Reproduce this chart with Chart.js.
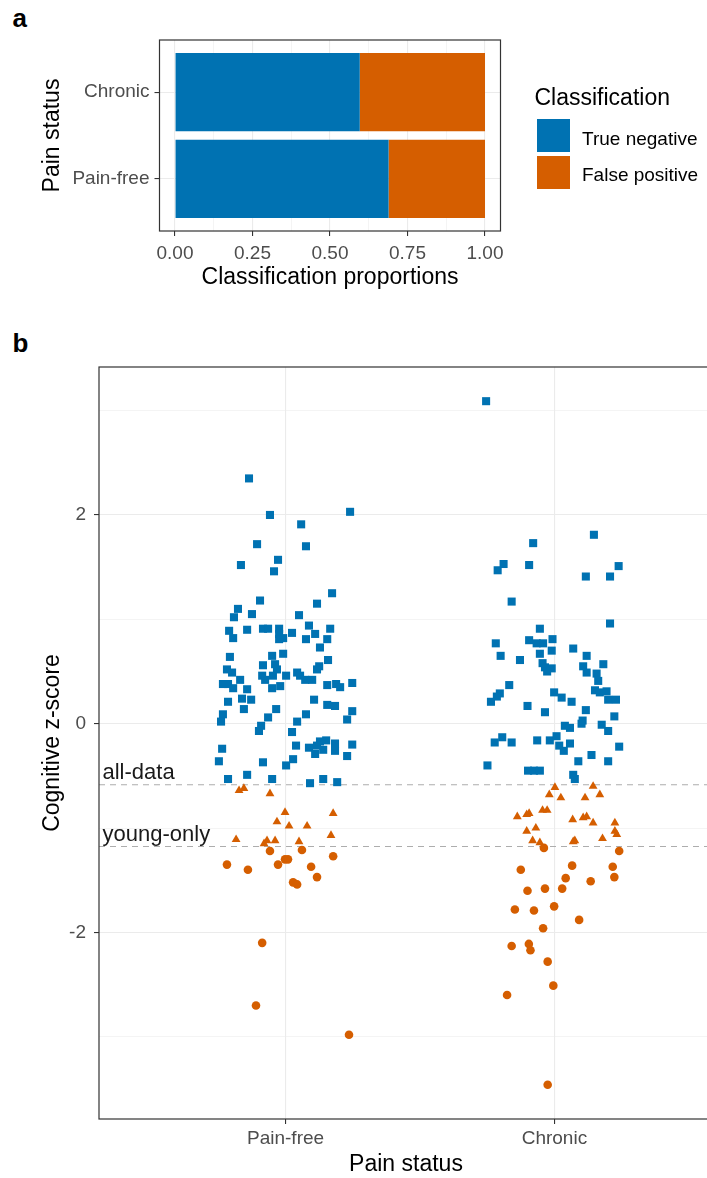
<!DOCTYPE html>
<html>
<head>
<meta charset="utf-8">
<title>Classification of cognitive z-scores by pain status</title>
<script src="https://cdn.jsdelivr.net/npm/chart.js@4.4.1/dist/chart.umd.min.js"></script>
<style>
  html, body { margin: 0; padding: 0; background: #fff; overflow: hidden; }
  #page { position: relative; width: 707px; height: 1178px; overflow: hidden;
          font-family: 'Liberation Sans', Arial, sans-serif; }
  canvas { position: absolute; left: 0; }
  #fig-a { top: 0; }
  #fig-b { top: 320px; }
  .tag { position: absolute; font-weight: bold; font-size: 26px; line-height: 1; color: #000; }
  .lg-title { position: absolute; left: 534.5px; top: 85.5px; font-size: 23px; line-height: 1; color: #000; white-space: nowrap; }
  .lg-key { position: absolute; left: 536.5px; width: 33px; height: 33px; }
  .lg-text { position: absolute; left: 582px; font-size: 19px; line-height: 1; color: #000; white-space: nowrap; }
</style>
</head>
<body>
<div id="page">
  <div class="tag" style="left:12.5px;top:5px">a</div>
  <canvas id="fig-a" width="707" height="300"></canvas>
  <div id="legend-a"></div>
  <div class="tag" style="left:12.5px;top:330px">b</div>
  <canvas id="fig-b" width="720" height="858"></canvas>
</div>
<script>
Chart.defaults.font.family = "'Liberation Sans', Arial, sans-serif";

// ---------- shared ----------
const painStatus = ['Pain-free', 'Chronic'];

// ---------- panel a: classification proportions ----------
const classes = ['True negative', 'False positive'];
const classColours = ['#0072B2', '#D55E00'];
const trueNegativeShare = [0.689, 0.596];   // Pain-free, Chronic
const falsePositiveShare = [0.311, 0.404];
const proportionBreaks = [0, 0.25, 0.5, 0.75, 1];

// ---------- panel b: cognitive z-scores (jitter in category units) ----------
const painFreeJitter = [
  -0.136, -0.058, 0.058, 0.240, -0.106, 0.076, -0.166, -0.028, -0.043, 0.173,
  -0.095, 0.117, -0.177, -0.125, -0.192, 0.050, -0.210, -0.195, -0.143, -0.084,
  -0.065, -0.024, -0.024, -0.024, -0.009, 0.024, 0.087, 0.110, 0.076, 0.166,
  0.155, 0.128, -0.207, -0.218, -0.199, -0.050, -0.009, -0.039, -0.032, -0.084,
  -0.087, -0.076, -0.047, -0.050, -0.020, 0.002, 0.043, 0.054, 0.073, 0.099,
  0.117, 0.125, 0.158, -0.233, -0.214, -0.195, -0.169, -0.143, -0.162, -0.128,
  -0.214, -0.155, 0.155, 0.188, 0.203, 0.248, 0.106, 0.155, 0.184, -0.233,
  -0.240, -0.035, -0.065, 0.076, 0.043, 0.248, 0.229, -0.091, -0.099, 0.024,
  -0.236, -0.248, -0.084, 0.039, 0.087, 0.117, 0.128, 0.151, 0.110, 0.140,
  0.184, 0.184, 0.229, 0.248, 0.028, 0.002, -0.214, -0.143, -0.050, 0.091,
  0.140, 0.192,
  -0.173, -0.155, -0.058, -0.002, 0.177, -0.032, 0.013, 0.080, -0.184, -0.069,
  -0.080, -0.039, 0.050, 0.169,
  -0.058, -0.002, 0.009, 0.061, 0.177, -0.218, -0.140, -0.028, 0.095, 0.117,
  0.028, 0.043, -0.087, -0.110, 0.236
];
const painFreeScore = [
  2.35, 2.00, 1.91, 2.03, 1.72, 1.70, 1.52, 1.57, 1.46, 1.25,
  1.18, 1.15, 1.10, 1.05, 1.02, 1.04, 0.89, 0.82, 0.90, 0.91,
  0.91, 0.91, 0.86, 0.81, 0.82, 0.87, 0.94, 0.86, 0.81, 0.91,
  0.81, 0.73, 0.64, 0.52, 0.49, 0.65, 0.67, 0.57, 0.52, 0.56,
  0.46, 0.42, 0.46, 0.34, 0.36, 0.46, 0.49, 0.46, 0.42, 0.42,
  0.52, 0.55, 0.61, 0.38, 0.38, 0.34, 0.42, 0.33, 0.24, 0.23,
  0.21, 0.14, 0.37, 0.38, 0.35, 0.39, 0.23, 0.18, 0.17, 0.09,
  0.02, 0.14, 0.06, 0.09, 0.02, 0.12, 0.04, -0.02, -0.07, -0.08,
  -0.24, -0.36, -0.37, -0.21, -0.23, -0.21, -0.17, -0.16, -0.29, -0.25,
  -0.19, -0.26, -0.31, -0.20, -0.34, -0.40, -0.53, -0.49, -0.53, -0.57,
  -0.53, -0.56,
  -0.64, -0.62, -0.67, -0.85, -0.86, -0.94, -0.98, -0.98, -1.11, -1.12,
  -1.15, -1.12, -1.13, -1.07,
  -1.22, -1.30, -1.30, -1.21, -1.27, -1.35, -1.40, -1.35, -1.37, -1.47,
  -1.52, -1.54, -2.10, -2.70, -2.98
];
const chronicJitter = [
  -0.254, -0.079, -0.189, -0.211, -0.094, -0.159, 0.147, 0.117, 0.207, 0.239,
  0.207, -0.054, -0.218, -0.200, -0.094, -0.066, -0.042, -0.007, -0.054, -0.010,
  0.070, -0.128, -0.044, -0.035, -0.027, -0.010, 0.120, 0.107, 0.120, 0.182,
  0.157, 0.163, -0.168, -0.203, -0.214, -0.236, -0.001, 0.027, 0.064, 0.151,
  0.169, 0.194, 0.200, 0.229, -0.100, -0.035, 0.117, 0.223, 0.105, 0.101,
  0.039, 0.058, 0.176, 0.200, -0.222, -0.194, -0.159, -0.064, -0.017, 0.008,
  0.018, 0.058, 0.035, 0.241, 0.138, 0.200, 0.089, -0.249, -0.098, -0.076,
  -0.054, 0.070, 0.076,
  0.002, 0.144, -0.019, 0.024, 0.114, 0.169, -0.138, -0.103, -0.094, -0.044,
  -0.027, 0.068, 0.107, 0.120, 0.144, 0.225, -0.103, -0.069, 0.225, 0.232,
  -0.081, -0.054, 0.070, 0.076, 0.179,
  -0.039, 0.241, -0.125, 0.066, 0.217, 0.223, 0.042, 0.135, -0.100, -0.035,
  0.029, -0.147, -0.076, -0.001, 0.092, -0.042, -0.159, -0.095, -0.089, -0.025,
  -0.004, -0.176, -0.025
];
const chronicScore = [
  3.09, 1.73, 1.53, 1.47, 1.52, 1.17, 1.81, 1.41, 1.41, 1.51,
  0.96, 0.91, 0.77, 0.65, 0.80, 0.77, 0.77, 0.81, 0.67, 0.70,
  0.72, 0.61, 0.58, 0.54, 0.50, 0.53, 0.65, 0.55, 0.49, 0.57,
  0.48, 0.41, 0.37, 0.29, 0.26, 0.21, 0.30, 0.25, 0.21, 0.32,
  0.30, 0.31, 0.23, 0.23, 0.17, 0.11, 0.13, 0.07, 0.03, 0.00,
  -0.02, -0.04, -0.01, -0.07, -0.18, -0.13, -0.18, -0.16, -0.16, -0.12,
  -0.21, -0.19, -0.26, -0.22, -0.30, -0.36, -0.36, -0.40, -0.45, -0.45,
  -0.45, -0.49, -0.53,
  -0.61, -0.60, -0.68, -0.71, -0.71, -0.68, -0.89, -0.87, -0.86, -0.83,
  -0.83, -0.92, -0.90, -0.89, -0.95, -0.95, -1.03, -1.00, -1.03, -1.06,
  -1.12, -1.14, -1.13, -1.12, -1.10,
  -1.19, -1.22, -1.40, -1.36, -1.37, -1.47, -1.48, -1.51, -1.60, -1.58,
  -1.58, -1.78, -1.79, -1.75, -1.88, -1.96, -2.13, -2.11, -2.17, -2.28,
  -2.51, -2.60, -3.46
];
const zBreaks = [-2, 0, 2];
const cutoffNames = ['all-data', 'young-only'];
const cutoffValues = [-0.585, -1.177];

// ---------- helpers ----------
const ink = '#333333';
const gridInk = '#ebebeb';
const tickInk = '#4d4d4d';

function isMajor(v, breaks) { return breaks.some(b => Math.abs(b - v) < 1e-6); }

// major breaks plus ggplot-style minor breaks halfway between them
function withMinor(breaks, min, max) {
  const half = (breaks[1] - breaks[0]) / 2;
  const out = [];
  const last = breaks[breaks.length - 1] + half + 1e-9;
  for (let v = breaks[0] - half; v <= last; v += half) {
    const r = +v.toFixed(6);
    if (r >= min && r <= max) out.push({ value: r });
  }
  return out;
}

function gridFor(breaks) {
  return {
    color: gridInk,
    lineWidth: c => (c.tick && isMajor(c.tick.value, breaks)) ? 1.1 : 0.55,
    tickLength: 5,
    tickWidth: 1.1,
    tickColor: c => (c.tick && isMajor(c.tick.value, breaks)) ? ink : 'rgba(0,0,0,0)',
    offset: false
  };
}

// full panel frame drawn over the plotting area
const panelFrame = {
  id: 'panelFrame',
  afterDraw(chart) {
    const { ctx, chartArea: a } = chart;
    ctx.save();
    ctx.strokeStyle = ink;
    ctx.lineWidth = 1.2;
    ctx.strokeRect(a.left, a.top, a.right - a.left, a.bottom - a.top);
    ctx.restore();
  }
};

// ---------- panel a ----------
const xA = { min: -0.05, max: 1.05 };
new Chart(document.getElementById('fig-a'), {
  type: 'bar',
  data: {
    datasets: [
      {
        label: classes[0],
        data: trueNegativeShare.map((v, i) => ({ x: v, y: i + 1 })),
        backgroundColor: classColours[0],
        borderWidth: 0, barPercentage: 0.9, categoryPercentage: 1
      },
      {
        label: classes[1],
        data: falsePositiveShare.map((v, i) => ({ x: v, y: i + 1 })),
        backgroundColor: classColours[1],
        borderWidth: 0, barPercentage: 0.9, categoryPercentage: 1
      }
    ]
  },
  options: {
    indexAxis: 'y',
    responsive: false,
    animation: false,
    events: [],
    layout: { padding: { top: 40, right: 206.5, left: 0, bottom: 0 } },
    plugins: { legend: { display: false }, tooltip: { enabled: false } },
    scales: {
      x: {
        type: 'linear', stacked: true, min: xA.min, max: xA.max, offset: false,
        afterBuildTicks: s => { s.ticks = withMinor(proportionBreaks, xA.min, xA.max); },
        afterFit: s => { s.height = 69; },
        ticks: {
          autoSkip: false, maxRotation: 0, padding: 6, color: tickInk, font: { size: 19 },
          callback: v => isMajor(v, proportionBreaks) ? v.toFixed(2) : ''
        },
        grid: gridFor(proportionBreaks),
        border: { display: false },
        title: { display: true, text: 'Classification proportions', color: '#000',
                 font: { size: 23 }, padding: { top: 0, bottom: 8.5 } }
      },
      y: {
        type: 'linear', stacked: true, min: 0.4, max: 2.6, offset: false,
        afterBuildTicks: s => { s.ticks = painStatus.map((_, i) => ({ value: i + 1 })); },
        afterFit: s => { s.width = 159.5; },
        ticks: {
          autoSkip: false, padding: 5, color: tickInk, font: { size: 19 },
          callback: v => painStatus[Math.round(v) - 1]
        },
        grid: gridFor([1, 2]),
        border: { display: false },
        title: { display: true, text: 'Pain status', color: '#000',
                 font: { size: 23 }, padding: { top: 39, bottom: 0 } }
      }
    }
  },
  plugins: [panelFrame]
});

// legend for panel a
(function buildLegend() {
  const host = document.getElementById('legend-a');
  const title = document.createElement('div');
  title.className = 'lg-title';
  title.textContent = 'Classification';
  host.appendChild(title);
  classes.forEach((name, i) => {
    const top = 119 + i * 36.5;
    const key = document.createElement('div');
    key.className = 'lg-key';
    key.style.top = top + 'px';
    key.style.background = classColours[i];
    host.appendChild(key);
    const label = document.createElement('div');
    label.className = 'lg-text';
    label.style.top = (top + 9.5) + 'px';
    label.textContent = name;
    host.appendChild(label);
  });
})();

// ---------- panel b ----------
const groups = [
  { jitter: painFreeJitter, score: painFreeScore },
  { jitter: chronicJitter, score: chronicScore }
];
const aboveBoth = [], betweenCuts = [], belowBoth = [];
groups.forEach((g, gi) => g.score.forEach((s, i) => {
  const pt = { x: gi + 1 + g.jitter[i], y: s };
  if (s >= cutoffValues[0]) aboveBoth.push(pt);
  else if (s >= cutoffValues[1]) betweenCuts.push(pt);
  else belowBoth.push(pt);
}));

const allScores = painFreeScore.concat(chronicScore);
const zLo = Math.min(...allScores), zHi = Math.max(...allScores);
const zPad = 0.05 * (zHi - zLo);
const yB = { min: zLo - zPad, max: zHi + zPad };
const xB = { min: 0.306, max: 2.59 };

const cutoffLabels = {
  id: 'cutoffLabels',
  afterDatasetsDraw(chart) {
    const { ctx, chartArea, scales } = chart;
    ctx.save();
    ctx.font = "22px 'Liberation Sans', Arial, sans-serif";
    ctx.fillStyle = '#1a1a1a';
    ctx.textAlign = 'left';
    ctx.textBaseline = 'alphabetic';
    cutoffNames.forEach((name, i) => {
      ctx.fillText(name, chartArea.left + 3.5, scales.y.getPixelForValue(cutoffValues[i]) - 6);
    });
    ctx.restore();
  }
};

new Chart(document.getElementById('fig-b'), {
  type: 'scatter',
  data: {
    datasets: [
      { label: 'True negative', data: aboveBoth, pointStyle: 'rect', pointRadius: 5.7,
        backgroundColor: classColours[0], borderWidth: 0 },
      { label: 'False positive (all-data only)', data: betweenCuts, pointStyle: 'triangle', pointRadius: 5.1,
        backgroundColor: classColours[1], borderWidth: 0 },
      { label: 'False positive (both cut-offs)', data: belowBoth, pointStyle: 'circle', pointRadius: 4.3,
        backgroundColor: classColours[1], borderWidth: 0 },
      ...cutoffValues.map((c, i) => ({
        label: cutoffNames[i],
        data: [{ x: xB.min, y: c }, { x: xB.max, y: c }],
        showLine: true, pointRadius: 0, borderColor: '#adadad', borderWidth: 1.1,
        borderDash: [6, 5], fill: false
      }))
    ]
  },
  options: {
    responsive: false,
    animation: false,
    events: [],
    layout: { padding: { top: 47, right: 7, left: 0, bottom: 0 } },
    plugins: { legend: { display: false }, tooltip: { enabled: false } },
    scales: {
      x: {
        type: 'linear', min: xB.min, max: xB.max,
        afterBuildTicks: s => { s.ticks = painStatus.map((_, i) => ({ value: i + 1 })); },
        afterFit: s => { s.height = 59; },
        ticks: {
          autoSkip: false, maxRotation: 0, padding: 3, color: tickInk, font: { size: 19 },
          callback: v => painStatus[Math.round(v) - 1]
        },
        grid: gridFor([1, 2]),
        border: { display: false },
        title: { display: true, text: 'Pain status', color: '#000',
                 font: { size: 23 }, padding: { top: 0, bottom: 0 } }
      },
      y: {
        type: 'linear', min: yB.min, max: yB.max,
        afterBuildTicks: s => { s.ticks = withMinor(zBreaks, yB.min, yB.max); },
        afterFit: s => { s.width = 99; },
        ticks: {
          autoSkip: false, padding: 8, color: tickInk, font: { size: 19 },
          callback: v => isMajor(v, zBreaks) ? String(v) : ''
        },
        grid: gridFor(zBreaks),
        border: { display: false },
        title: { display: true, text: 'Cognitive z-score', color: '#000',
                 font: { size: 23 }, padding: { top: 39, bottom: 0 } }
      }
    }
  },
  plugins: [cutoffLabels, panelFrame]
});
</script>
</body>
</html>
